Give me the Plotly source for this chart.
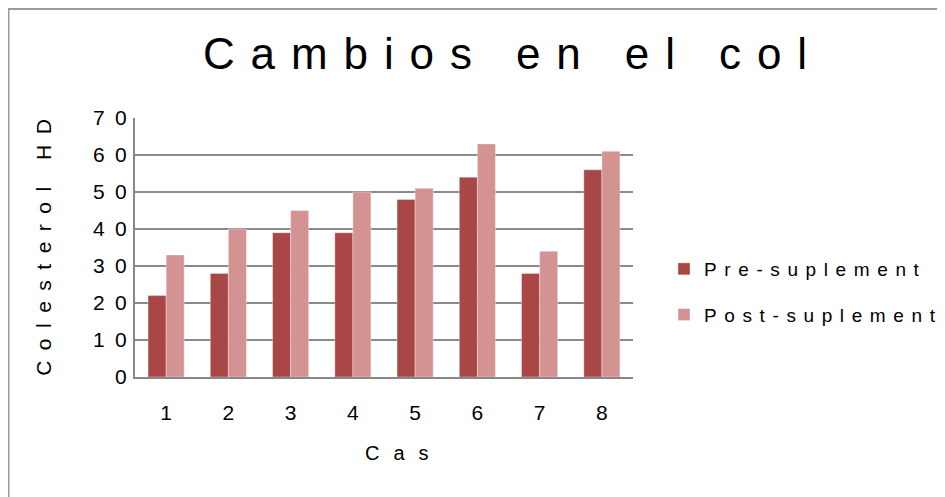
import plotly.graph_objects as go

cases = ["1", "2", "3", "4", "5", "6", "7", "8"]
pre = [22, 28, 39, 39, 48, 54, 28, 56]
post = [33, 40, 45, 50, 51, 63, 34, 61]
y_ticks = [0, 10, 20, 30, 40, 50, 60, 70]

title_text = "Cambios en el col"
y_title = "Colesterol HD"
x_title = "Cas"
pre_name = "Pre-suplement"
post_name = "Post-suplement"


def spaced(s, sep):
    return sep.join(list(s))


W, H = 945, 497
# plot area in figure pixel coordinates (page has 8px body margin)
L, R, T, B = 127, 625, 110, 369
pw, ph = R - L, B - T


def px_x(x):
    return (x - L) / pw


def px_y(y):
    return (B - y) / ph


fig = go.Figure()
fig.add_trace(go.Bar(x=cases, y=pre, name=spaced(pre_name, "\u2009\u2009"), legendgroup="a",
                     marker=dict(color="#A94747", line=dict(color="rgba(255,255,255,0.35)", width=1))))
fig.add_trace(go.Bar(x=cases, y=post, name=spaced(post_name, "\u2009\u2009"), legendgroup="b",
                     marker=dict(color="#D49393", line=dict(color="rgba(255,255,255,0.35)", width=1))))

font_main = "Liberation Sans, Arial, sans-serif"

fig.update_layout(
    width=W, height=H,
    margin=dict(l=L, r=W - R, t=T, b=H - B, autoexpand=False),
    paper_bgcolor="white", plot_bgcolor="white",
    barmode="group", bargap=0.42, bargroupgap=0,
    title=dict(text=spaced(title_text, "\u00a0\u200a"), x=px_x(497), xref="paper", xanchor="center",
               y=1 - 46 / H, yref="container", yanchor="middle",
               font=dict(family=font_main, size=44, color="black")),
    font=dict(family=font_main, size=20, color="black"),
    showlegend=True,
    legend=dict(x=px_x(656), xanchor="left", y=px_y(242), yanchor="top",
                tracegroupgap=18, traceorder="grouped",
                font=dict(family=font_main, size=19, color="black"),
                bgcolor="rgba(0,0,0,0)"),
    xaxis=dict(showline=True, linecolor="#888888", linewidth=2, ticks="",
               ticklabelstandoff=16, tickfont=dict(size=21),
               showgrid=False, zeroline=False),
    yaxis=dict(range=[0, 70], tickvals=y_ticks,
               ticktext=[spaced(str(v), "\u2002") for v in y_ticks],
               showline=True, linecolor="#888888", linewidth=2, ticks="",
               showgrid=True, gridcolor="#8a8a8a", gridwidth=1.5, zeroline=False,
               ticklabelstandoff=2, tickfont=dict(size=21),
               title=dict(text=spaced(y_title, "\u2002"), standoff=36, font=dict(size=21))),
)

# x-axis title (offset to the right of the plot centre as in the reference)
fig.add_annotation(text=spaced(x_title, "\u2002\u2009"), xref="paper", yref="paper",
                   x=px_x(389), y=px_y(445), xanchor="center", yanchor="middle",
                   showarrow=False, font=dict(family=font_main, size=20, color="black"))

fig.add_shape(type="rect", xref="paper", yref="paper",
              x0=px_x(0.5), x1=px_x(970), y0=px_y(520), y1=px_y(1),
              line=dict(color="#9a9a9a", width=2), fillcolor="rgba(0,0,0,0)", layer="below")

fig.write_html("out.html")
